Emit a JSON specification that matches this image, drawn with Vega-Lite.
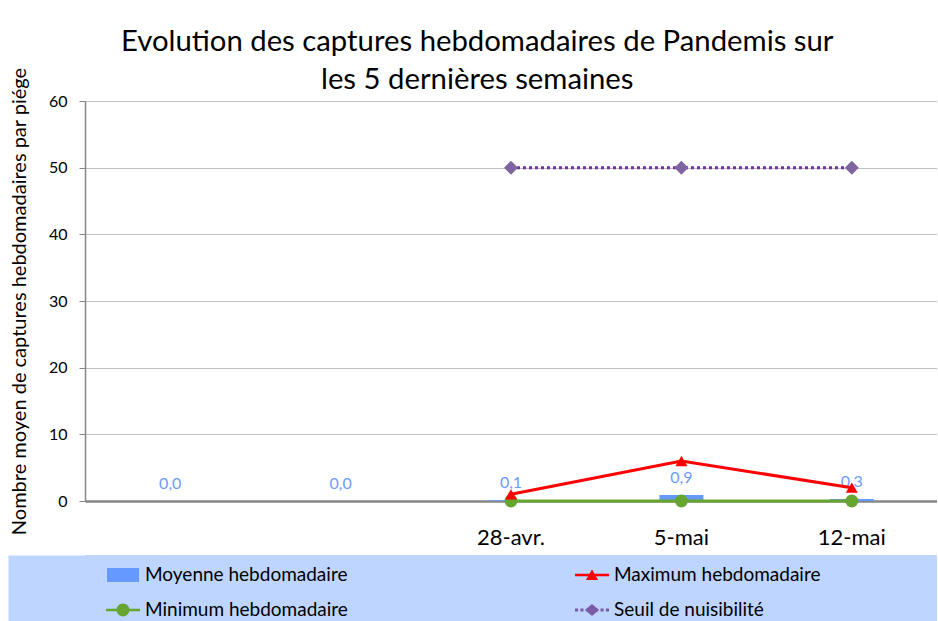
{
  "$schema": "https://vega.github.io/schema/vega-lite/v6.json",
  "background": "white",
  "padding": {"left": 9, "top": 27, "right": 0, "bottom": 0},
  "spacing": 7,
  "bounds": "full",
  "datasets": {
    "captures": [
      {"semaine": "S-4", "serie": "Moyenne hebdomadaire", "valeur": 0},
      {"semaine": "S-3", "serie": "Moyenne hebdomadaire", "valeur": 0},
      {"semaine": "28-avr.", "serie": "Moyenne hebdomadaire", "valeur": 0.1},
      {"semaine": "5-mai", "serie": "Moyenne hebdomadaire", "valeur": 0.9},
      {"semaine": "12-mai", "serie": "Moyenne hebdomadaire", "valeur": 0.3},
      {"semaine": "28-avr.", "serie": "Maximum hebdomadaire", "valeur": 1},
      {"semaine": "5-mai", "serie": "Maximum hebdomadaire", "valeur": 6},
      {"semaine": "12-mai", "serie": "Maximum hebdomadaire", "valeur": 2},
      {"semaine": "28-avr.", "serie": "Minimum hebdomadaire", "valeur": 0},
      {"semaine": "5-mai", "serie": "Minimum hebdomadaire", "valeur": 0},
      {"semaine": "12-mai", "serie": "Minimum hebdomadaire", "valeur": 0},
      {"semaine": "28-avr.", "serie": "Seuil de nuisibilité", "valeur": 50},
      {"semaine": "5-mai", "serie": "Seuil de nuisibilité", "valeur": 50},
      {"semaine": "12-mai", "serie": "Seuil de nuisibilité", "valeur": 50}
    ]
  },
  "resolve": {
    "scale": {"color": "independent", "shape": "independent"},
    "legend": {"color": "independent", "shape": "independent"}
  },
  "vconcat": [
    {
      "width": 852,
      "height": 400,
      "title": {
        "text": ["Evolution des captures hebdomadaires de Pandemis sur", "les 5 dernières semaines"],
        "font": "Lato",
        "fontSize": 29.3,
        "fontWeight": "normal",
        "color": "#000000",
        "anchor": "middle",
        "frame": "bounds",
        "lineHeight": 38,
        "offset": -28,
        "dx": 4
      },
      "data": {"name": "captures"},
      "encoding": {
        "x": {
          "field": "semaine",
          "type": "nominal",
          "sort": null,
          "title": null,
          "scale": {"paddingInner": 0, "paddingOuter": 0},
          "axis": {
            "labelExpr": "indexof(datum.value, 'S-') == 0 ? '' : datum.value",
            "labelAngle": 0,
            "labelFontSize": 22,
            "labelColor": "#000000",
            "labelPadding": 26,
            "ticks": false,
            "grid": false,
            "domainColor": "#868686",
            "domainWidth": 2.5
          }
        },
        "y": {
          "field": "valeur",
          "type": "quantitative",
          "scale": {"domain": [0, 60], "nice": false},
          "axis": {
            "title": "Nombre moyen de captures hebdomadaires par piége",
            "values": [0, 10, 20, 30, 40, 50, 60],
            "labelFontSize": 16,
            "labelColor": "#000000",
            "labelPadding": 12,
            "titleFontSize": 20,
            "titleFontWeight": "normal",
            "titleColor": "#000000",
            "titlePadding": 19,
            "tickSize": 6,
            "tickColor": "#868686",
            "domainColor": "#868686",
            "domainWidth": 1.5,
            "grid": true,
            "gridColor": "#BFBFBF"
          }
        }
      },
      "layer": [
        {
          "transform": [{"filter": "datum.serie == 'Moyenne hebdomadaire'"}],
          "mark": {"type": "bar", "width": 44, "color": "#6699FF"}
        },
        {
          "transform": [{"filter": "datum.serie == 'Moyenne hebdomadaire'"}],
          "mark": {"type": "text", "dy": -12, "baseline": "alphabetic", "color": "#6E9BFF", "fontSize": 16, "font": "Lato"},
          "encoding": {"text": {"field": "valeur", "type": "quantitative", "format": ".1f"}}
        },
        {
          "transform": [{"filter": "datum.serie == 'Seuil de nuisibilité'"}],
          "mark": {"type": "line", "color": "#7030A0", "strokeWidth": 3, "strokeDash": [3, 3]}
        },
        {
          "transform": [{"filter": "datum.serie == 'Seuil de nuisibilité'"}],
          "mark": {"type": "point", "shape": "diamond", "filled": true, "opacity": 1, "color": "#8064A2", "size": 196}
        },
        {
          "transform": [{"filter": "datum.serie == 'Minimum hebdomadaire'"}],
          "mark": {"type": "line", "color": "#66A630", "strokeWidth": 3}
        },
        {
          "transform": [{"filter": "datum.serie == 'Minimum hebdomadaire'"}],
          "mark": {"type": "point", "shape": "circle", "filled": true, "opacity": 1, "color": "#66A630", "size": 169}
        },
        {
          "transform": [{"filter": "datum.serie == 'Maximum hebdomadaire'"}],
          "mark": {"type": "line", "color": "#FF0000", "strokeWidth": 3}
        },
        {
          "transform": [{"filter": "datum.serie == 'Maximum hebdomadaire'"}],
          "mark": {"type": "point", "shape": "triangle-up", "filled": true, "opacity": 1, "color": "#FF0000", "size": 144}
        }
      ]
    },
    {
      "width": 852,
      "height": 68,
      "view": {"fill": "#BDD5FF", "stroke": null},
      "data": {"name": "captures"},
      "transform": [{"filter": "false"}],
      "mark": {"type": "point", "filled": true, "opacity": 1},
      "encoding": {
        "y": {
          "field": "valeur",
          "type": "quantitative",
          "scale": {"domain": [0, 1]},
          "axis": {
            "title": null,
            "labels": false,
            "ticks": false,
            "grid": false,
            "domain": true,
            "domainColor": "#BDD5FF",
            "domainWidth": 154,
            "domainCap": "butt"
          }
        },
        "color": {
          "field": "serie",
          "type": "nominal",
          "scale": {
            "domain": ["Moyenne hebdomadaire", "Maximum hebdomadaire", "Minimum hebdomadaire", "Seuil de nuisibilité"],
            "range": ["#6699FF", "#FF0000", "#66A630", "#7B5BA8"]
          },
          "legend": {
            "title": null,
            "orient": "none",
            "legendX": 21,
            "legendY": 3,
            "columns": 2,
            "direction": "horizontal",
            "padding": 0,
            "columnPadding": 227,
            "rowPadding": 8,
            "symbolSize": 1156,
            "symbolStrokeWidth": 0,
            "labelFont": "Lato",
            "labelFontSize": 19,
            "labelColor": "#000000",
            "labelOffset": 5,
            "labelLimit": 400
          }
        },
        "shape": {
          "field": "serie",
          "type": "nominal",
          "scale": {
            "domain": ["Moyenne hebdomadaire", "Maximum hebdomadaire", "Minimum hebdomadaire", "Seuil de nuisibilité"],
            "range": [
              "M-0.94,-0.41H0.94V0.41H-0.94Z",
              "M-1,-0.074H1V0.074H-1Z M0,-0.33L0.36,0.3H-0.36Z",
              "M-1,-0.08H1V0.08H-1Z M-0.38,0a0.38,0.38 0 1,1 0.76,0a0.38,0.38 0 1,1 -0.76,0Z",
              "M-1,-0.09h0.18v0.18h-0.18Z M-0.68,-0.09h0.18v0.18h-0.18Z M0.5,-0.09h0.18v0.18h-0.18Z M0.82,-0.09h0.18v0.18h-0.18Z M0,-0.36L0.42,0L0,0.36L-0.42,0Z"
            ]
          },
          "legend": {
            "title": null,
            "orient": "none",
            "legendX": 21,
            "legendY": 3,
            "columns": 2,
            "direction": "horizontal",
            "padding": 0,
            "columnPadding": 227,
            "rowPadding": 8,
            "symbolSize": 1156,
            "symbolStrokeWidth": 0,
            "labelFont": "Lato",
            "labelFontSize": 19,
            "labelColor": "#000000",
            "labelOffset": 5,
            "labelLimit": 400
          }
        }
      }
    }
  ],
  "config": {
    "view": {"stroke": null},
    "axis": {"labelFont": "Lato", "titleFont": "Lato"},
    "locale": {"number": {"decimal": ",", "thousands": " ", "grouping": [3], "currency": ["", " €"]}}
  }
}
